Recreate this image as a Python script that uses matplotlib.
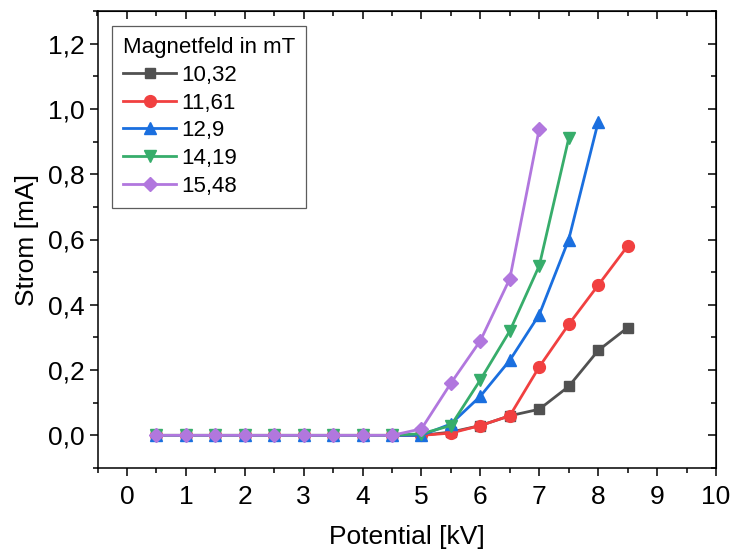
import numpy as np
import matplotlib
matplotlib.use("Agg")
import matplotlib.pyplot as plt
from matplotlib.ticker import MultipleLocator, FuncFormatter

plt.rcParams['font.family'] = ['Liberation Sans', 'DejaVu Sans']

# Potential in kV
potential = [0.5, 1.0, 1.5, 2.0, 2.5, 3.0, 3.5, 4.0, 4.5, 5.0, 5.5, 6.0, 6.5, 7.0, 7.5, 8.0, 8.5]

# current in mA, one list per magnetic field
strom_1032 = [0, 0, 0, 0, 0, 0, 0, 0, 0, 0.0, 0.01, 0.03, 0.06, 0.08, 0.15, 0.26, 0.33]
strom_1161 = [0, 0, 0, 0, 0, 0, 0, 0, 0, 0.0, 0.007, 0.03, 0.06, 0.21, 0.34, 0.46, 0.58]
strom_129 = [0, 0, 0, 0, 0, 0, 0, 0, 0, 0.0, 0.035, 0.12, 0.23, 0.37, 0.60, 0.96]
strom_1419 = [0, 0, 0, 0, 0, 0, 0, 0, 0, 0.005, 0.03, 0.17, 0.32, 0.52, 0.91]
strom_1548 = [0, 0, 0, 0, 0, 0, 0, 0, 0, 0.02, 0.16, 0.29, 0.48, 0.94]

labels = ["10,32", "11,61", "12,9", "14,19", "15,48"]
series = [strom_1032, strom_1161, strom_129, strom_1419, strom_1548]
colors = ["#515151", "#F14040", "#1A6FDF", "#37AD6B", "#B177DE"]
markers = ["s", "o", "^", "v", "D"]
msizes = [7.5, 8.5, 8.5, 8.5, 7.5]

fig = plt.figure(figsize=(7.35, 5.55), dpi=100)
ax = fig.add_axes([97.5 / 735, 1 - 468 / 555, (716 - 97.5) / 735, (468 - 11) / 555])

for y, lab, col, mk, ms in zip(series, labels, colors, markers, msizes):
    ax.plot(potential[:len(y)], y, color=col, marker=mk, markersize=ms,
            linewidth=2.0, label=lab)

ax.set_xlim(-0.5, 10)
ax.set_ylim(-0.1, 1.3)
ax.xaxis.set_major_locator(MultipleLocator(1))
ax.xaxis.set_minor_locator(MultipleLocator(0.5))
ax.yaxis.set_major_locator(MultipleLocator(0.2))
ax.yaxis.set_minor_locator(MultipleLocator(0.1))
ax.yaxis.set_major_formatter(FuncFormatter(lambda v, p: f"{v:.1f}".replace(".", ",")))

for s in ax.spines.values():
    s.set_linewidth(1.1)
ax.tick_params(which='major', direction='out', length=6, width=1.1, labelsize=19)
ax.tick_params(which='minor', direction='out', length=3.5, width=1.1)
ax.tick_params(axis='x', pad=6)

# mirrored ticks on top and right, pointing inwards
top = ax.secondary_xaxis('top')
top.xaxis.set_major_locator(MultipleLocator(1))
top.xaxis.set_minor_locator(MultipleLocator(0.5))
top.tick_params(which='major', direction='in', length=6, width=1.1, labeltop=False)
top.tick_params(which='minor', direction='in', length=3.5, width=1.1)
right = ax.secondary_yaxis('right')
right.yaxis.set_major_locator(MultipleLocator(0.2))
right.yaxis.set_minor_locator(MultipleLocator(0.1))
right.tick_params(which='major', direction='in', length=6, width=1.1, labelright=False)
right.tick_params(which='minor', direction='in', length=3.5, width=1.1)

ax.set_xlabel("Potential [kV]", fontsize=19, labelpad=12)
ax.set_ylabel("Strom [mA]", fontsize=19, labelpad=6)

leg = ax.legend(title="Magnetfeld in mT", loc='upper left',
                bbox_to_anchor=(0.0234, 0.967), borderaxespad=0,
                fontsize=16, title_fontsize=16, handlelength=2.4,
                handletextpad=0.2, labelspacing=0.3, fancybox=False,
                frameon=True, edgecolor='#333333', borderpad=0.5)
leg.get_frame().set_linewidth(0.9)
leg._legend_box.align = "left"

plt.savefig("out.png", dpi=100)
